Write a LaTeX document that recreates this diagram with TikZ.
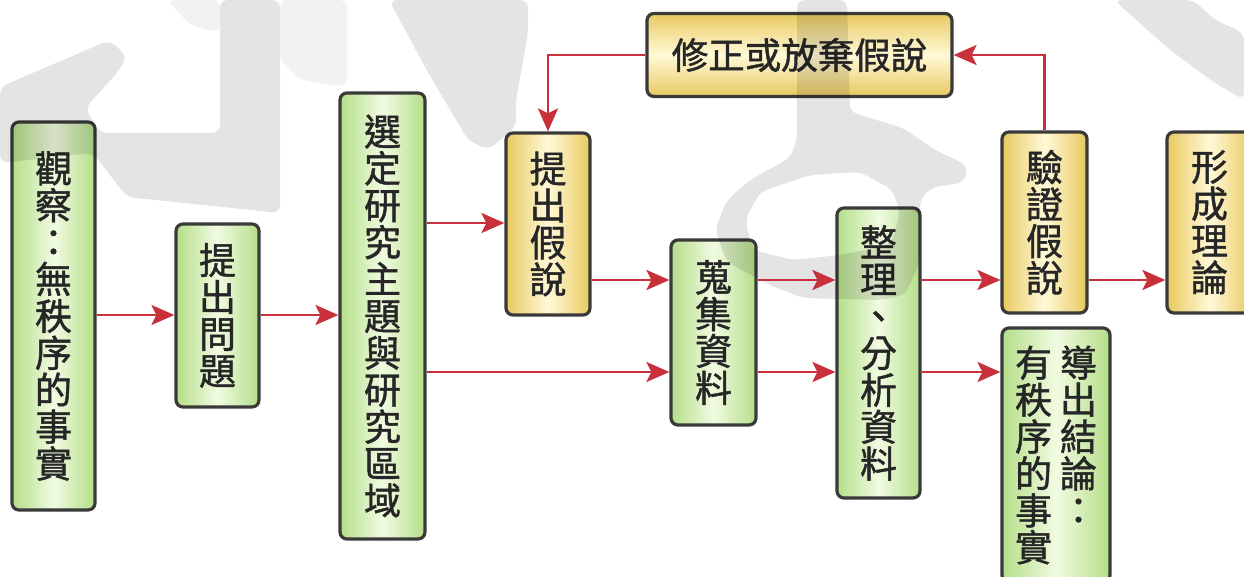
\documentclass[tikz,border=0pt]{standalone}
\usepackage{fontspec}
\newfontfamily\cjk[FakeBold=1.2]{Noto Sans CJK TC}
\usetikzlibrary{arrows.meta,calc}
\definecolor{gedge}{HTML}{B4DE88}
\definecolor{gmid}{HTML}{F1FBE2}
\definecolor{yedge}{HTML}{E8C95E}
\definecolor{ymid}{HTML}{FFF9D8}
\definecolor{frame}{HTML}{3A3A3A}
\definecolor{arrred}{HTML}{C8303C}
\definecolor{wmark}{HTML}{E4E4E4}
\definecolor{wmarklight}{HTML}{F2F2F2}
\newcommand\boxfont{\cjk\fontsize{37}{36.9}\selectfont\lineskiplimit=-60pt\relax}
\tikzset{
  box/.style={draw=frame, line width=3.2pt, rounded corners=7pt, inner sep=0pt,
    font=\boxfont, align=center, text=black!85},
  gbox/.style={box, left color=gedge, right color=gedge, middle color=gmid},
  ybox/.style={box, left color=yedge, right color=yedge, middle color=ymid},
  yhbox/.style={box, top color=yedge, bottom color=yedge, middle color=ymid},
  arr/.style={draw=arrred, line width=2.8pt, -{Stealth[length=23pt,width=20pt,inset=5pt]}},
  wm/.style={fill=wmark, draw=none, rounded corners=8pt},
}
\begin{document}
\begin{tikzpicture}[x=1pt,y=-1pt]
\useasboundingbox (0,0) rectangle (1244,577);
\fill[white] (0,0) rectangle (1244,577);
% nodes
\node[gbox, minimum width=83, minimum height=388] (n1) at (53.5,316) {觀\\察\\：\\無\\秩\\序\\的\\事\\實};
\node[gbox, minimum width=83, minimum height=183] (n2) at (217.5,315.5) {提\\出\\問\\題};
\node[gbox, minimum width=85, minimum height=446] (n3) at (382.5,316) {選\\定\\研\\究\\主\\題\\與\\研\\究\\區\\域};
\node[ybox, minimum width=84, minimum height=182] (n4) at (548,224) {提\\出\\假\\說};
\node[yhbox, minimum width=305, minimum height=83, font={\cjk\fontsize{36.5}{37}\selectfont}] (n5) at (799.5,55) {修正或放棄假說};
\node[gbox, minimum width=85, minimum height=185] (n6) at (713.5,332.5) {蒐\\集\\資\\料};
\node[gbox, minimum width=83, minimum height=290] (n7) at (878.5,353) {整\\理\\、\\分\\析\\資\\料};
\node[ybox, minimum width=85, minimum height=181] (n8) at (1044.5,222.5) {驗\\證\\假\\說};
\node[ybox, minimum width=85, minimum height=181] (n9) at (1209.5,222.5) {形\\成\\理\\論};
\node[gbox, minimum width=108, minimum height=254] (n10) at (1056,455)
  {\begin{minipage}[t]{38pt}\centering 有\\秩\\序\\的\\事\\實\end{minipage}\hspace{7pt}%
   \begin{minipage}[t]{38pt}\centering 導\\出\\結\\論\\：\end{minipage}};
% watermark strokes, laid over the boxes
\begin{scope}[blend mode=multiply]
\path[wm, fill=wmarklight] (280,0) -- (347,0) -- (347,87) -- (300,80) -- (280,60) -- cycle;
\path[wm, fill=wmarklight] (167,0) -- (220,0) -- (220,33) -- (190,25) -- cycle;
\path[wm] (0,87) -- (110,40) -- (127,57) -- (117,73) -- (85,108) -- (100,133) -- (220,133) -- (220,0)
  -- (280,0) -- (280,213) -- (127,197) -- (93,153) -- (0,163) -- cycle;
\path[wm] (389,0) -- (528,0) -- (528,33) -- (516,100) -- (516,127) -- (488,150) -- (468,140) -- (425,67) -- cycle;
\path[wm, even odd rule]
  (797,0) -- (847,0) -- (850,112) -- (903,128) -- (935,150) -- (967,165) -- (965,182) -- (930,188)
  -- (920,200) -- (920,262) -- (905,295) -- (880,300) -- (803,298) -- (770,285) -- (727,262)
  -- (715,230) -- (727,200) -- (750,180) -- (790,158) -- (797,140) -- cycle
  (760,192) -- (810,175) -- (860,172) -- (893,190) -- (900,215) -- (890,245) -- (840,255)
  -- (793,260) -- (753,250) -- (745,220) -- cycle;
\path[wm] (1114,0) -- (1193,0) -- (1215,20) -- (1244,33) -- (1244,100) -- (1215,83) -- (1170,50) -- cycle;
\end{scope}
% helper levels
\coordinate (yA) at (0,315);
\coordinate (yB) at (0,223);
\coordinate (yC) at (0,372);
\coordinate (yD) at (0,280);
% connectors
\draw[arr] (n1.east |- yA) -- (n2.west |- yA);
\draw[arr] (n2.east |- yA) -- (n3.west |- yA);
\draw[arr] (n3.east |- yB) -- (n4.west |- yB);
\draw[arr] (n3.east |- yC) -- (n6.west |- yC);
\draw[arr] (n4.east |- yD) -- (n6.west |- yD);
\draw[arr] (n6.east |- yD) -- (n7.west |- yD);
\draw[arr] (n6.east |- yC) -- (n7.west |- yC);
\draw[arr] (n7.east |- yD) -- (n8.west |- yD);
\draw[arr] (n7.east |- yC) -- (n10.west |- yC);
\draw[arr] (n8.east |- yD) -- (n9.west |- yD);
\draw[arr] (n8.north) |- (n5.east);
\draw[arr] (n5.west) -| (n4.north);
\end{tikzpicture}
\end{document}
